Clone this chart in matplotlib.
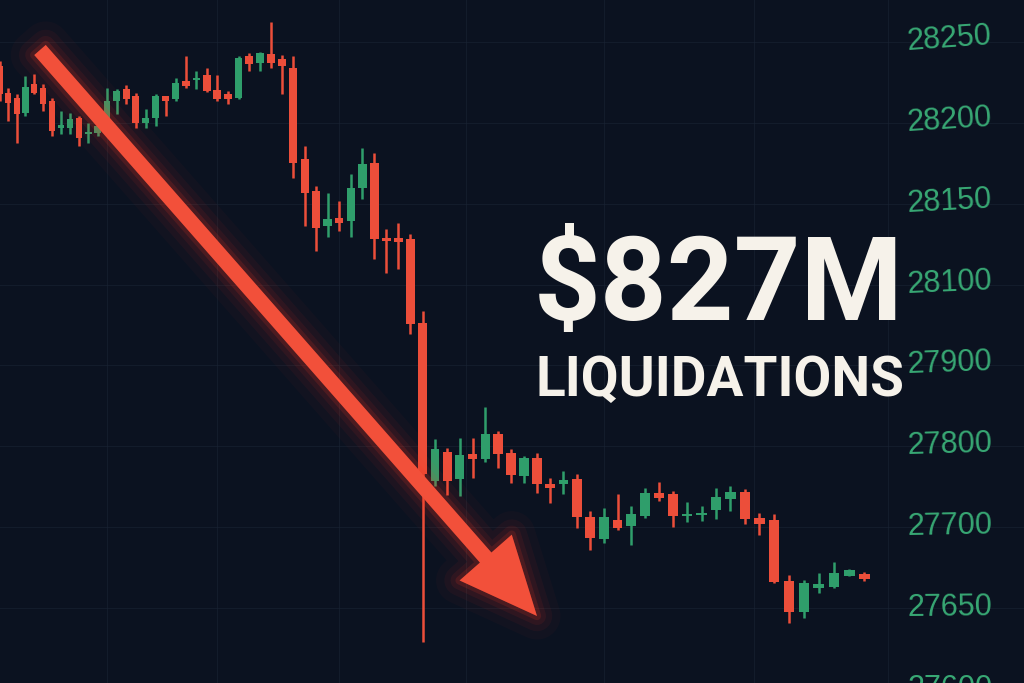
import numpy as np
import matplotlib.pyplot as plt
from matplotlib.patches import FancyArrowPatch
from matplotlib.transforms import blended_transform_factory

# candle data, left to right (price)
opens = [28235.0, 28218.5, 28215.4, 28206.1, 28224.1, 28221.6, 28213.6, 28196.9, 28196.9, 28203.0,
         28193.1, 28193.8, 28199.3, 28213.6, 28221.0, 28216.7, 28200.0, 28203.0, 28216.7, 28214.8,
         28225.9, 28226.5, 28229.6, 28220.4, 28217.9, 28215.4, 28241.4, 28237.1, 28242.6, 28239.5,
         28234.0, 28177.7, 28157.9, 28136.3, 28141.2, 28139.4, 28159.8, 28175.2, 28128.8, 28128.8,
         28128.2, 28004.8, 27757.0, 27792.9, 27759.5, 27790.4, 27784.2, 27815.1, 27791.6, 27763.2,
         27785.4, 27753.3, 27753.3, 27759.5, 27712.5, 27692.7, 27708.8, 27701.4, 27713.7, 27742.2,
         27740.9, 27713.7, 27714.9, 27721.2, 27734.7, 27743.4, 27711.2, 27708.8, 27666.7, 27647.5,
         27662.4, 27663.0, 27669.8, 27671.0]
closes = [28218.0, 28212.3, 28205.5, 28222.2, 28218.5, 28211.7, 28195.0, 28198.9, 28202.4, 28190.7,
          28194.4, 28198.1, 28213.6, 28219.7, 28214.8, 28200.0, 28203.0, 28216.7, 28213.6, 28224.7,
          28222.8, 28227.8, 28219.7, 28214.8, 28214.8, 28240.1, 28236.4, 28243.2, 28237.1, 28235.2,
          28175.2, 28156.7, 28135.0, 28140.6, 28138.1, 28159.8, 28174.6, 28128.2, 28127.0, 28126.4,
          28002.4, 27765.6, 27796.6, 27757.0, 27789.1, 27784.2, 27815.1, 27790.4, 27764.4, 27785.4,
          27753.3, 27748.3, 27758.2, 27712.5, 27693.3, 27712.5, 27699.5, 27716.2, 27742.2, 27736.0,
          27713.7, 27716.2, 27717.4, 27737.2, 27743.4, 27710.0, 27703.8, 27666.1, 27647.5, 27665.5,
          27664.9, 27671.7, 27673.5, 27667.9]
highs = [28238.3, 28221.6, 28217.9, 28229.0, 28230.3, 28224.1, 28215.4, 28207.4, 28206.1, 28204.3,
         28199.9, 28202.4, 28221.6, 28221.0, 28223.5, 28218.5, 28208.6, 28217.9, 28216.7, 28227.8,
         28241.4, 28232.1, 28234.0, 28229.6, 28219.7, 28241.4, 28243.2, 28243.9, 28262.4, 28242.0,
         28241.4, 28185.7, 28161.0, 28156.7, 28151.7, 28168.4, 28184.5, 28181.4, 28134.4, 28138.1,
         28131.3, 28034.5, 27808.9, 27797.8, 27810.2, 27810.2, 27848.5, 27818.8, 27796.6, 27787.9,
         27791.6, 27760.7, 27769.4, 27765.6, 27719.9, 27723.6, 27740.9, 27726.1, 27748.3, 27755.8,
         27744.6, 27731.0, 27726.1, 27748.3, 27750.8, 27747.1, 27717.4, 27716.2, 27670.4, 27667.3,
         27671.7, 27678.5, 27674.0, 27672.3]
lows = [28213.6, 28201.2, 28187.6, 28204.3, 28217.9, 28207.4, 28191.9, 28193.1, 28193.1, 28185.7,
        28187.6, 28191.9, 28196.9, 28205.5, 28211.7, 28196.9, 28196.9, 28198.1, 28204.3, 28213.6,
        28221.6, 28221.0, 28219.1, 28213.6, 28211.7, 28214.8, 28232.1, 28232.1, 28234.0, 28217.9,
        28165.9, 28136.3, 28120.8, 28129.5, 28133.2, 28129.5, 28153.0, 28115.8, 28107.2, 28109.7,
        27977.6, 27629.0, 27750.8, 27739.7, 27738.4, 27760.7, 27780.5, 27773.1, 27754.5, 27754.5,
        27742.2, 27729.8, 27740.9, 27699.5, 27685.9, 27690.2, 27698.0, 27689.0, 27711.2, 27732.3,
        27700.0, 27706.3, 27707.5, 27710.0, 27719.9, 27703.8, 27695.2, 27665.5, 27640.7, 27643.8,
        27659.3, 27662.4, 27669.5, 27666.7]

price_labels = [28250, 28200, 28150, 28100, 27900, 27800, 27700, 27650, 27600]
headline = "$827M"
subline = "LIQUIDATIONS"

BG = "#0b1220"
RED = "#ec4e3a"
GREEN = "#2f9e6b"
LABEL_GREEN = "#38a874"

# the price axis is a ladder: each label is one equal step on screen
ladder_vals = [27000, 27600, 27650, 27700, 27800, 27900, 28100, 28150, 28200, 28250, 28300, 29000]
ladder_rows = [-13, -1, 0, 1, 2, 3, 4, 5, 6, 7, 8, 22]


def y_fwd(v):
    return np.interp(v, ladder_vals, ladder_rows)


def y_inv(r):
    return np.interp(r, ladder_rows, ladder_vals)


# slight perspective: candles get wider apart to the right
K = 0.005746


def x_fwd(t):
    t = np.asarray(t, dtype=float)
    return t + K * t ** 2


def x_inv(u):
    u = np.asarray(u, dtype=float)
    return (-1 + np.sqrt(np.maximum(1 + 4 * K * u, 0))) / (2 * K)


fig = plt.figure(figsize=(10.24, 6.83), dpi=100, facecolor=BG)
ax = fig.add_axes([0, 0, 1, 1])
ax.set_facecolor(BG)
ax.set_xscale("function", functions=(x_fwd, x_inv))
ax.set_yscale("function", functions=(y_fwd, y_inv))
ax.set_xlim(0, 83.08)
ax.set_ylim(27603.6, 28276.0)

# faint grid
ax.set_yticks(price_labels[:-1])
ax.set_xticks([12, 23, 34, 44.5, 55, 65.6, 74.5])
ax.grid(True, color="#1a2334", lw=0.8, alpha=0.6)
ax.tick_params(left=False, bottom=False, labelleft=False, labelbottom=False)
for s in ax.spines.values():
    s.set_visible(False)

# candles
o = np.array(opens)
c = np.array(closes)
idx = np.arange(len(o))
cols = [GREEN if cc >= oo else RED for oo, cc in zip(o, c)]
bottoms = np.minimum(o, c)
heights = np.maximum(np.abs(c - o), 1.5)
ax.vlines(idx, lows, highs, colors=cols, lw=1.8, zorder=2)
ax.bar(idx, heights, bottom=bottoms, width=0.72, color=cols, zorder=3)

# glowing arrow
start = (40 / 1024, 1 - 50 / 683)
tip = (537 / 1024, 1 - 616 / 683)
style = "simple,head_length=56,head_width=50,tail_width=11"
for lw, a in [(34, 0.03), (22, 0.05), (13, 0.08), (6, 0.14)]:
    ax.add_patch(FancyArrowPatch(start, tip, transform=ax.transAxes, arrowstyle=style,
                                 mutation_scale=1, shrinkA=0, shrinkB=0, lw=lw,
                                 facecolor="#ff3a22", edgecolor="#ff3a22", alpha=a,
                                 joinstyle="round", zorder=4))
ax.add_patch(FancyArrowPatch(start, tip, transform=ax.transAxes, arrowstyle=style,
                             mutation_scale=1, shrinkA=0, shrinkB=0, lw=0,
                             facecolor="#f2503a", zorder=5))

# headline
ax.text(0.521, 0.5315, headline, transform=ax.transAxes, fontsize=84, fontweight="bold",
        family="Roboto", color="#f6f2ea", ha="left", va="baseline", zorder=6)
ax.text(0.523, 0.420, subline, transform=ax.transAxes, fontsize=39.5, fontweight="bold",
        family="Roboto", color="#f6f2ea", ha="left", va="baseline", zorder=6)

# price labels on the right, slightly tilted towards the top (perspective)
trans = blended_transform_factory(ax.transAxes, ax.transData)
n = len(price_labels)
for k, v in enumerate(price_labels):
    ax.text(0.886, v, str(v), transform=trans, fontsize=22, family="Liberation Sans",
            color=LABEL_GREEN, ha="left", va="center", rotation=4 * (n - 1 - k) / (n - 1),
            rotation_mode="anchor", clip_on=False, zorder=6)

fig.savefig("out.png", dpi=100, facecolor=BG)
